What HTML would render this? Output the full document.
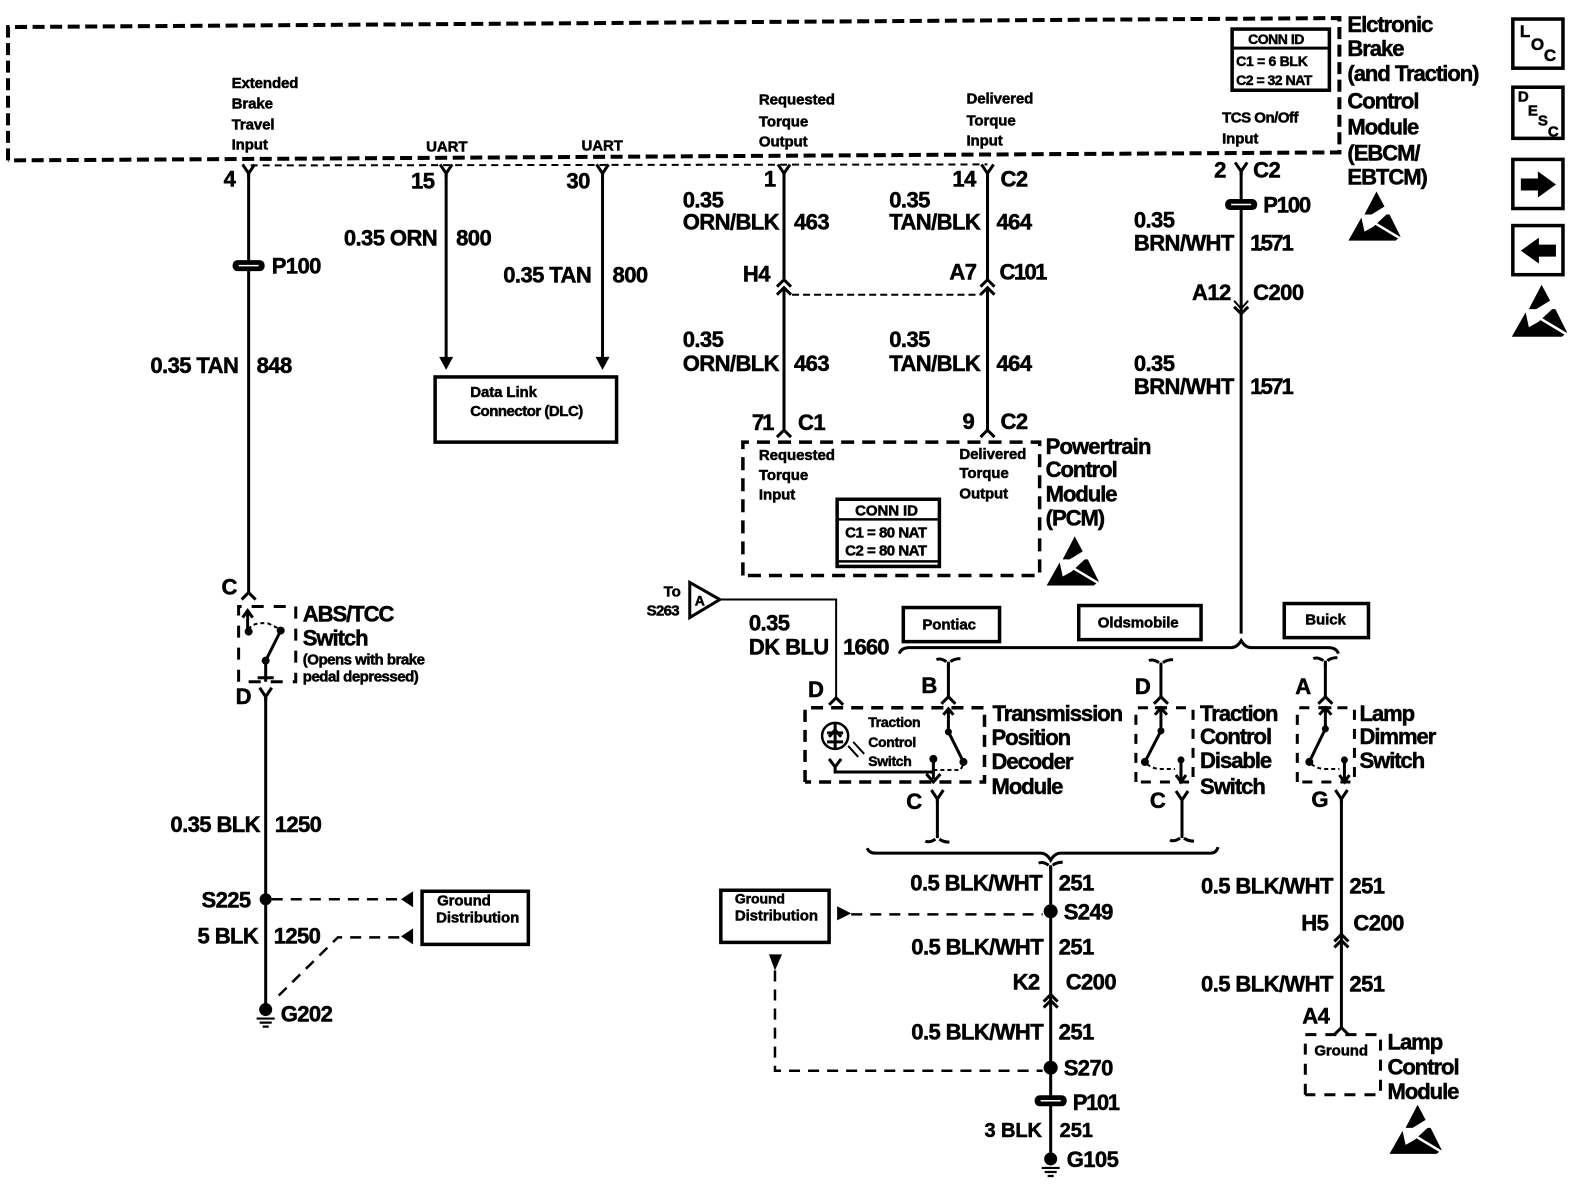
<!DOCTYPE html>
<html><head><meta charset="utf-8"><style>
html,body{margin:0;padding:0;background:#fff}
svg{display:block}
text{font-family:"Liberation Sans",sans-serif;font-weight:bold;fill:#000;stroke:#000;stroke-width:.5}
.a{font-size:22px;letter-spacing:-.6px}
.l{font-size:22px;letter-spacing:-1.05px}
.b{font-size:15px;letter-spacing:-.1px}
.c{font-size:14px;letter-spacing:-.3px}
.w{fill:none;stroke:#000;stroke-width:3}
.n{fill:none;stroke:#000;stroke-width:2}
.d{fill:none;stroke:#000;stroke-width:4;stroke-dasharray:12 5.5}
.e{fill:none;stroke:#000;stroke-width:2.5;stroke-dasharray:11 8}
.box{fill:#fff;stroke:#000;stroke-width:3.5}
</style></head><body>
<svg width="1572" height="1184" viewBox="0 0 1568 1181" xmlns="http://www.w3.org/2000/svg">
<defs>
<path id="y" d="M-6,-9 L0,0 L6,-9 M0,0 V4" fill="none" stroke="#000" stroke-width="3"/>
<path id="ch" d="M-7,6 L0,-1 L7,6" fill="none" stroke="#000" stroke-width="3"/>
<path id="chd" d="M-7,-6 L0,1 L7,-6" fill="none" stroke="#000" stroke-width="3"/>
<g id="p"><rect x="-16" y="-5.5" width="32" height="11" rx="5" fill="#000"/><path d="M-10,0 H10" stroke="#fff" stroke-width="1.5"/></g>
<g id="g"><circle cx="0" cy="-4" r="6.5" fill="#000"/><path d="M-9,5 H9 M-6,9 H6 M-3,13 H3" stroke="#000" stroke-width="2.2"/></g>
<g id="esd"><path d="M28,0 L36,15 L23,23 L16,23Z" fill="#000"/><path d="M0,49 L13,26 L16,40 L25,35 L38,23 L41,23 L52,45 L47,49Z" fill="#000"/><path d="M22,29 L52,47" stroke="#fff" stroke-width="2.5"/></g>
<path id="tt" d="M-12,-2 Q-8,-4 -2,0 M12,-3 Q6,-3 2,0 M0,0 V6" fill="none" stroke="#000" stroke-width="3"/>
<path id="tb" d="M-12,2 Q-8,4 -2,0 M12,3 Q6,3 2,0" fill="none" stroke="#000" stroke-width="3"/>
</defs>

<!-- EBCM dashed module -->
<path class="d" d="M8,160 V27 L1336,18 V152 L8,160"/>
<path d="M250,165 L985,164" fill="none" stroke="#000" stroke-width="2" stroke-dasharray="7 5"/>

<!-- CONN ID EBCM -->
<rect x="1229" y="29" width="97" height="61" fill="#fff" stroke="#000" stroke-width="3.5"/>
<path d="M1229,48 H1326" stroke="#000" stroke-width="3"/>
<text class="b" x="1245" y="44" style="font-size:14px;letter-spacing:-.5px">CONN ID</text>
<text class="b" x="1233" y="66" style="font-size:14px;letter-spacing:-.3px">C1 = 6 BLK</text>
<text class="b" x="1233" y="85" style="font-size:14px;letter-spacing:-.5px">C2 = 32 NAT</text>

<!-- module titles -->
<text class="l" x="1344" y="32">Elctronic</text>
<text class="l" x="1344" y="56">Brake</text>
<text class="l" x="1344" y="81">(and Traction)</text>
<text class="l" x="1344" y="108">Control</text>
<text class="l" x="1344" y="134">Module</text>
<text class="l" x="1344" y="160">(EBCM/</text>
<text class="l" x="1344" y="184">EBTCM)</text>
<use href="#esd" x="1345" y="191"/>

<!-- small labels in EBCM -->
<text class="b" x="231" y="88">Extended</text>
<text class="b" x="231" y="108">Brake</text>
<text class="b" x="231" y="129">Travel</text>
<text class="b" x="231" y="149">Input</text>
<text class="b" x="425" y="151">UART</text>
<text class="b" x="580" y="150">UART</text>
<text class="b" x="757" y="104">Requested</text>
<text class="b" x="757" y="126">Torque</text>
<text class="b" x="757" y="146">Output</text>
<text class="b" x="964" y="103">Delivered</text>
<text class="b" x="964" y="125">Torque</text>
<text class="b" x="964" y="145">Input</text>
<text class="b" x="1219" y="122" style="letter-spacing:-.5px">TCS On/Off</text>
<text class="b" x="1219" y="143">Input</text>

<!-- wire 848 -->
<path class="w" d="M248,170 V592"/>
<use href="#y" x="248" y="173"/>
<use href="#p" x="248" y="265"/>
<use href="#ch" x="248" y="592"/>
<text class="a" x="223" y="186">4</text>
<text class="a" x="271" y="273">P100</text>
<text class="a" x="150" y="372">0.35 TAN</text>
<text class="a" x="256" y="372">848</text>
<text class="a" x="221" y="593">C</text>

<!-- ABS switch -->
<path class="e" d="M238,680 V605 H295 V680 H238" style="stroke-width:3;stroke-dasharray:12 10"/>
<path class="w" d="M247,630 V610 M242,616 L247,609 L252,616"/>
<circle cx="248" cy="630" r="4"/><circle cx="280" cy="629" r="4"/><circle cx="265" cy="659" r="4"/>
<path class="n" d="M248,628 Q252,620 268,622 L280,628" stroke-dasharray="4 3"/>
<path class="w" d="M280,629 L265,659 V680 M257,676 H273"/>
<use href="#y" x="265" y="695"/>
<text class="a" x="235" y="702">D</text>
<text class="l" x="302" y="620">ABS/TCC</text>
<text class="l" x="302" y="644">Switch</text>
<text class="b" x="302" y="663" style="letter-spacing:-.5px">(Opens with brake</text>
<text class="b" x="302" y="680" style="letter-spacing:-.5px">pedal depressed)</text>

<!-- wire 1250 -->
<path class="w" d="M265,695 V1005"/>
<circle cx="265" cy="897" r="6" fill="#000"/>
<use href="#g" x="265" y="1011"/>
<text class="a" x="170" y="830">0.35 BLK</text>
<text class="a" x="274" y="830">1250</text>
<text class="a" x="201" y="905">S225</text>
<text class="a" x="197" y="941">5 BLK</text>
<text class="a" x="273" y="941">1250</text>
<text class="a" x="280" y="1019">G202</text>
<path class="e" d="M271,897 H402"/>
<path d="M412,889 V905 L400,897Z" fill="#000"/>
<path class="e" d="M278,993 L337,935 H402"/>
<path d="M412,926 V942 L400,934Z" fill="#000"/>
<rect class="box" x="421" y="889" width="106" height="53"/>
<text class="b" x="436" y="903">Ground</text>
<text class="b" x="435" y="920">Distribution</text>

<!-- wires 800 -->
<path class="w" d="M445,170 V360"/>
<use href="#y" x="445" y="173"/>
<path d="M438,356 H452 L445,369Z" fill="#000"/>
<text class="a" x="410" y="188">15</text>
<text class="a" x="343" y="245">0.35 ORN</text>
<text class="a" x="455" y="245">800</text>
<path class="w" d="M601,170 V360"/>
<use href="#y" x="601" y="173"/>
<path d="M594,356 H608 L601,369Z" fill="#000"/>
<text class="a" x="565" y="188">30</text>
<text class="a" x="502" y="282">0.35 TAN</text>
<text class="a" x="611" y="282">800</text>
<rect class="box" x="434" y="376" width="181" height="65"/>
<text class="b" x="469" y="396">Data Link</text>
<text class="b" x="469" y="415" style="letter-spacing:-.5px">Connector (DLC)</text>

<!-- wire 463 -->
<path class="w" d="M782,170 V280 M782,288 V430"/>
<use href="#y" x="782" y="173"/>
<use href="#ch" x="782" y="280"/><use href="#ch" x="782" y="288"/>
<use href="#ch" x="782" y="430"/>
<text class="a" x="762" y="186">1</text>
<text class="a" x="681" y="207">0.35</text>
<text class="a" x="681" y="229">ORN/BLK</text>
<text class="a" x="792" y="229">463</text>
<text class="a" x="741" y="281">H4</text>
<text class="a" x="681" y="346">0.35</text>
<text class="a" x="681" y="370">ORN/BLK</text>
<text class="a" x="792" y="370">463</text>
<text class="a" x="750" y="429" style="letter-spacing:-2px">71</text>
<text class="a" x="796" y="429">C1</text>

<!-- wire 464 -->
<path class="w" d="M985,170 V280 M985,288 V430"/>
<use href="#y" x="985" y="173"/>
<use href="#ch" x="985" y="280"/><use href="#ch" x="985" y="288"/>
<use href="#ch" x="985" y="430"/>
<path class="n" d="M790,294 H978" stroke-dasharray="7 4"/>
<text class="a" x="950" y="186">14</text>
<text class="a" x="998" y="186">C2</text>
<text class="a" x="887" y="207">0.35</text>
<text class="a" x="887" y="229">TAN/BLK</text>
<text class="a" x="994" y="229">464</text>
<text class="a" x="947" y="279">A7</text>
<text class="a" x="997" y="279" style="letter-spacing:-1.6px">C101</text>
<text class="a" x="887" y="346">0.35</text>
<text class="a" x="887" y="370">TAN/BLK</text>
<text class="a" x="994" y="370">464</text>
<text class="a" x="960" y="428">9</text>
<text class="a" x="998" y="428">C2</text>

<!-- PCM -->
<path class="e" d="M741,574 V441 H1037 V574 H741" style="stroke-width:3.5;stroke-dasharray:13 8"/>
<text class="b" x="757" y="459">Requested</text>
<text class="b" x="757" y="479">Torque</text>
<text class="b" x="757" y="498">Input</text>
<text class="b" x="957" y="458">Delivered</text>
<text class="b" x="957" y="477">Torque</text>
<text class="b" x="957" y="497">Output</text>
<rect x="835" y="498" width="102" height="67" fill="#fff" stroke="#000" stroke-width="3.5"/>
<path d="M835,518 H937 M835,560 H937" stroke="#000" stroke-width="2.5"/>
<text class="b" x="853" y="514">CONN ID</text>
<text class="b" x="843" y="536" style="letter-spacing:-.5px">C1 = 80 NAT</text>
<text class="b" x="843" y="554" style="letter-spacing:-.5px">C2 = 80 NAT</text>
<text class="l" x="1043" y="453" style="letter-spacing:-.9px">Powertrain</text>
<text class="l" x="1043" y="476">Control</text>
<text class="l" x="1043" y="500">Module</text>
<text class="l" x="1043" y="524">(PCM)</text>
<use href="#esd" x="1044" y="535"/>

<!-- wire 1571 -->
<path class="w" d="M1238,168 V632"/>
<use href="#y" x="1238" y="171"/>
<use href="#p" x="1238" y="204"/>
<path class="n" d="M1231,300 L1238,308 L1245,300"/>
<use href="#chd" x="1238" y="312"/>
<text class="a" x="1211" y="177">2</text>
<text class="a" x="1250" y="177">C2</text>
<text class="a" x="1260" y="212" style="letter-spacing:-1.2px">P100</text>
<text class="a" x="1131" y="227">0.35</text>
<text class="a" x="1131" y="250">BRN/WHT</text>
<text class="a" x="1247" y="250" style="letter-spacing:-1.8px">1571</text>
<text class="a" x="1189" y="299">A12</text>
<text class="a" x="1250" y="299">C200</text>
<text class="a" x="1131" y="370">0.35</text>
<text class="a" x="1131" y="393">BRN/WHT</text>
<text class="a" x="1247" y="393" style="letter-spacing:-1.8px">1571</text>

<!-- Option boxes -->
<rect class="box" x="901" y="606" width="96" height="34"/>
<text class="b" x="920" y="628">Pontiac</text>
<rect class="box" x="1076" y="604" width="122" height="34"/>
<text class="b" x="1095" y="626">Oldsmobile</text>
<rect class="box" x="1281" y="602" width="84" height="34"/>
<text class="b" x="1302" y="623">Buick</text>
<path class="w" d="M897,652 Q899,646 907,646 H1228 Q1234,646 1238,639 Q1242,646 1248,646 H1325 Q1333,646 1335,652"/>

<!-- Triangle -->
<path d="M688,581 L718,598 L688,616Z" fill="#fff" stroke="#000" stroke-width="3"/>
<text class="b" x="693" y="604" style="font-size:14px">A</text>
<text class="b" x="662" y="595">To</text>
<text class="b" x="645" y="614" style="letter-spacing:-.7px">S263</text>
<path class="n" d="M718,598 H834 V696"/>
<text class="a" x="747" y="629">0.35</text>
<text class="a" x="747" y="653">DK BLU</text>
<text class="a" x="841" y="653" style="letter-spacing:-.9px">1660</text>

<!-- TPDM -->
<path class="e" d="M803,780 V706 H982 V780 H803" style="stroke-width:3.5;stroke-dasharray:12 8"/>
<use href="#ch" x="834" y="697"/>
<text class="a" x="806" y="695">D</text>
<text class="a" x="919" y="691">B</text>
<use href="#tt" x="946" y="660"/>
<path class="w" d="M946,662 V696"/>
<use href="#ch" x="946" y="696"/>
<path class="w" d="M946,732 V708 M941,713 L946,707 L951,713"/>
<circle cx="946" cy="730" r="3.5"/><circle cx="961" cy="760" r="4"/><circle cx="931" cy="757" r="4"/>
<path class="w" d="M946,730 L961,760"/>
<path class="n" d="M931,768 H958 L961,762" stroke-dasharray="4 3"/>
<circle cx="833" cy="734" r="13" fill="none" stroke="#000" stroke-width="2.5"/>
<path class="w" d="M833,722 V746 M825,731 H841 M825,740 H841 M827,735 L833,728 L839,735"/>
<path class="n" d="M846,744 L856,755 M851,740 L862,752"/>
<path class="w" d="M827,757 L833,765 L839,757 M833,765 V770 H932"/>
<path class="w" d="M931,757 V777 M924,772 L931,780 L938,772"/>
<text class="c" x="866" y="725">Traction</text>
<text class="c" x="866" y="745">Control</text>
<text class="c" x="866" y="764">Switch</text>
<text class="l" x="990" y="719">Transmission</text>
<text class="l" x="989" y="743">Position</text>
<text class="l" x="989" y="767">Decoder</text>
<text class="l" x="989" y="792">Module</text>
<use href="#y" x="935" y="797"/>
<path class="w" d="M935,797 V836"/>
<use href="#tb" x="935" y="837"/>
<text class="a" x="904" y="807">C</text>

<!-- TC Disable -->
<path class="e" d="M1133,780 V706 H1190 V780 H1133" style="stroke-width:3;stroke-dasharray:10 9"/>
<use href="#tt" x="1158" y="661"/>
<path class="w" d="M1158,663 V696"/>
<use href="#ch" x="1158" y="696"/>
<text class="a" x="1132" y="692">D</text>
<path class="w" d="M1158,729 V707 M1152,713 L1158,706 L1164,713 M1152,706 H1164"/>
<path class="w" d="M1158,729 L1142,760"/>
<circle cx="1158" cy="729" r="3.5"/><circle cx="1142" cy="760" r="4"/><circle cx="1178" cy="758" r="3.5"/>
<path class="n" d="M1144,762 Q1150,767 1158,767 H1172" stroke-dasharray="4 3"/>
<path class="w" d="M1178,758 V778 M1173,773 L1178,780 L1183,773"/>
<text class="l" x="1197" y="719">Traction</text>
<text class="l" x="1197" y="742">Control</text>
<text class="l" x="1197" y="766">Disable</text>
<text class="l" x="1197" y="792">Switch</text>
<use href="#y" x="1179" y="798"/>
<path class="w" d="M1179,798 V836"/>
<use href="#tb" x="1179" y="836"/>
<text class="a" x="1147" y="806">C</text>

<!-- Lamp dimmer -->
<path class="e" d="M1294,780 V706 H1351 V780 H1294" style="stroke-width:3;stroke-dasharray:10 9"/>
<use href="#tt" x="1322" y="659"/>
<path class="w" d="M1322,661 V696"/>
<use href="#ch" x="1322" y="696"/>
<text class="a" x="1292" y="692">A</text>
<path class="w" d="M1322,727 V707 M1316,713 L1322,706 L1328,713 M1316,706 H1328"/>
<path class="w" d="M1322,727 L1306,760"/>
<circle cx="1322" cy="727" r="3.5"/><circle cx="1306" cy="760" r="4"/><circle cx="1341" cy="758" r="3.5"/>
<path class="n" d="M1308,762 Q1314,767 1322,767 H1336" stroke-dasharray="4 3"/>
<path class="w" d="M1341,758 V778 M1336,773 L1341,780 L1346,773"/>
<text class="l" x="1356" y="719">Lamp</text>
<text class="l" x="1356" y="742">Dimmer</text>
<text class="l" x="1356" y="766">Switch</text>
<use href="#y" x="1338" y="797"/>
<path class="w" d="M1338,797 V1026"/>
<text class="a" x="1308" y="805">G</text>
<text class="a" x="1198" y="891">0.5 BLK/WHT</text>
<text class="a" x="1346" y="891">251</text>
<use href="#ch" x="1338" y="933"/><use href="#ch" x="1338" y="939"/>
<text class="a" x="1298" y="928">H5</text>
<text class="a" x="1350" y="928">C200</text>
<text class="a" x="1198" y="989">0.5 BLK/WHT</text>
<text class="a" x="1346" y="989">251</text>
<text class="a" x="1299" y="1021">A4</text>
<use href="#ch" x="1338" y="1026"/>

<!-- Lamp control module -->
<path class="e" d="M1302,1092 V1032 H1377 V1092 H1302" style="stroke-width:3;stroke-dasharray:11 9"/>
<text class="b" x="1311" y="1053">Ground</text>
<text class="l" x="1384" y="1047">Lamp</text>
<text class="l" x="1384" y="1072">Control</text>
<text class="l" x="1384" y="1096">Module</text>
<use href="#esd" x="1386" y="1102"/>

<!-- Lower brace -->
<path class="w" d="M865,846 Q867,851 873,851 H1038 Q1044,851 1048,858 Q1052,851 1058,851 H1208 Q1213,851 1215,845"/>
<use href="#tt" x="1048" y="863"/>
<path class="w" d="M1048,865 V1155"/>
<circle cx="1048" cy="909" r="7" fill="#000"/>
<circle cx="1048" cy="1065" r="7" fill="#000"/>
<use href="#ch" x="1048" y="993"/><use href="#ch" x="1048" y="999"/>
<use href="#p" x="1048" y="1098"/>
<use href="#g" x="1048" y="1160"/>
<text class="a" x="908" y="888">0.5 BLK/WHT</text>
<text class="a" x="1056" y="888">251</text>
<text class="a" x="1061" y="917">S249</text>
<text class="a" x="909" y="952">0.5 BLK/WHT</text>
<text class="a" x="1056" y="952">251</text>
<text class="a" x="1010" y="987">K2</text>
<text class="a" x="1063" y="987">C200</text>
<text class="a" x="909" y="1037">0.5 BLK/WHT</text>
<text class="a" x="1056" y="1037">251</text>
<text class="a" x="1061" y="1073">S270</text>
<text class="a" x="1070" y="1107" style="letter-spacing:-1.4px">P101</text>
<text class="b" x="982" y="1134" style="font-size:20px">3 BLK</text>
<text class="b" x="1057" y="1134" style="font-size:20px">251</text>
<text class="a" x="1064" y="1164">G105</text>

<!-- Ground distribution 2 -->
<rect class="box" x="719" y="888" width="108" height="52"/>
<text class="b" x="733" y="901" style="font-size:14px">Ground</text>
<text class="b" x="733" y="918">Distribution</text>
<path d="M835,904 L849,911 L835,918Z" fill="#000"/>
<path class="e" d="M849,912 H1040"/>
<path d="M767,952 H780 L773,968Z" fill="#000"/>
<path class="e" d="M773,968 V1068 H1040"/>

<!-- Nav icons -->
<rect x="1509" y="19" width="50" height="49" fill="#fff" stroke="#000" stroke-width="3.5"/>
<text x="1516" y="37" style="font-size:17px">L</text>
<text x="1527" y="50" style="font-size:17px">O</text>
<text x="1540" y="61" style="font-size:17px">C</text>
<rect x="1509" y="87" width="50" height="51" fill="#fff" stroke="#000" stroke-width="3.5"/>
<text x="1514" y="101" style="font-size:15px">D</text>
<text x="1524" y="115" style="font-size:15px">E</text>
<text x="1534" y="125" style="font-size:15px">S</text>
<text x="1544" y="136" style="font-size:15px">C</text>
<rect x="1509" y="159" width="50" height="49" fill="#fff" stroke="#000" stroke-width="3.5"/>
<path d="M1517,178 H1534 V171 L1552,184 L1534,197 V190 H1517Z" fill="#000"/>
<rect x="1509" y="225" width="50" height="49" fill="#fff" stroke="#000" stroke-width="3.5"/>
<path d="M1552,244 H1535 V237 L1517,250 L1535,263 V256 H1552Z" fill="#000"/>
<use href="#esd" x="1508" y="284" transform="translate(1508 284) scale(1.06) translate(-1508 -284)"/>
</svg>
</body></html>
